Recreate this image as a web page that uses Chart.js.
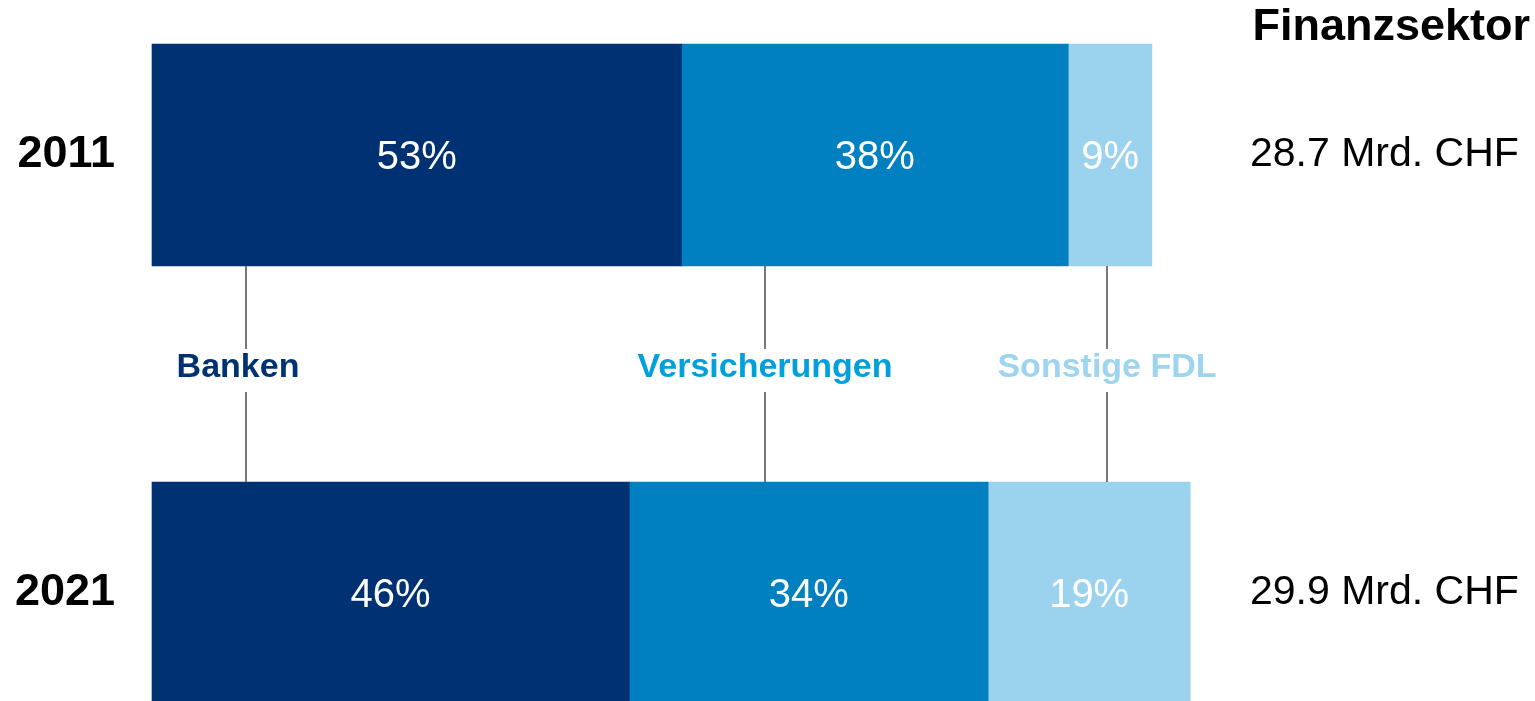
<!DOCTYPE html>
<html lang="de">
<head>
<meta charset="utf-8">
<title>Finanzsektor</title>
<script src="https://cdn.jsdelivr.net/npm/chart.js@4/dist/chart.umd.min.js"></script>
<style>
  html, body { margin: 0; padding: 0; background: #fff; }
  #wrap { position: relative; width: 1535px; height: 701px; }
</style>
</head>
<body>
<div id="wrap"><canvas id="finanzChart"></canvas></div>
<script>
const years = ['2011', '2021'];
const totals = ['28.7 Mrd. CHF', '29.9 Mrd. CHF'];
const sectors = ['Banken', 'Versicherungen', 'Sonstige FDL'];

// Beträge in Mrd. CHF, aus den Balkenlängen geschätzt
const banken = [15.2, 13.7];
const versicherungen = [11.1, 10.3];
const sonstige = [2.4, 5.8];

// Anteile wie beschriftet
const bankenPct = ['53%', '46%'];
const versicherungenPct = ['38%', '34%'];
const sonstigePct = ['9%', '19%'];

const FONT = '"Liberation Sans", Arial, Helvetica, sans-serif';
const barColors = ['#003273', '#0080c0', '#9bd3ee'];
const textColors = ['#003273', '#00a0dc', '#9dd4ef'];
// wo die Verbindungslinien stehen (x-Achse, Mrd. CHF)
const connectorAt = [2.7, 17.6, 27.4];

const segmentLabels = {
  id: 'segmentLabels',
  afterDatasetsDraw(chart) {
    const { ctx } = chart;
    ctx.save();
    ctx.font = `40px ${FONT}`;
    ctx.fillStyle = '#ffffff';
    ctx.textAlign = 'center';
    ctx.textBaseline = 'middle';
    chart.data.datasets.forEach((dataset, i) => {
      const meta = chart.getDatasetMeta(i);
      meta.data.forEach((bar, j) => {
        ctx.fillText(dataset.pct[j], (bar.x + bar.base) / 2, bar.y + 3);
      });
    });
    ctx.restore();
  },
};

const connectors = {
  id: 'connectors',
  afterDatasetsDraw(chart) {
    const { ctx } = chart;
    const { x } = chart.scales;
    const upper = chart.getDatasetMeta(0).data[0];
    const lower = chart.getDatasetMeta(0).data[1];
    const y0 = upper.y + upper.height / 2;
    const y1 = lower.y - lower.height / 2;
    const labelY = 368;

    ctx.save();
    ctx.strokeStyle = '#777777';
    ctx.lineWidth = 2;
    ctx.font = `bold 34px ${FONT}`;
    ctx.textAlign = 'center';
    ctx.textBaseline = 'middle';
    sectors.forEach((name, i) => {
      const px = Math.round(x.getPixelForValue(connectorAt[i]));
      ctx.beginPath();
      ctx.moveTo(px, y0);
      ctx.lineTo(px, labelY - 19);
      ctx.moveTo(px, labelY + 24);
      ctx.lineTo(px, y1);
      ctx.stroke();
      ctx.fillStyle = textColors[i];
      ctx.fillText(name, px - (i === 0 ? 8 : 0), labelY);
    });
    ctx.restore();
  },
};

const datasets = [
  { label: sectors[0], data: banken, pct: bankenPct, backgroundColor: barColors[0] },
  { label: sectors[1], data: versicherungen, pct: versicherungenPct, backgroundColor: barColors[1] },
  { label: sectors[2], data: sonstige, pct: sonstigePct, backgroundColor: barColors[2] },
].map((d) => ({
  ...d,
  borderWidth: 0,
  barThickness: 222,
  clip: false,
}));

const ctx = document.getElementById('finanzChart').getContext('2d');

new Chart(ctx, {
  type: 'bar',
  data: {
    labels: years,
    datasets,
  },
  options: {
    indexAxis: 'y',
    responsive: true,
    maintainAspectRatio: false,
    animation: false,
    layout: {
      padding: { top: 0, right: 5, bottom: 108, left: 0 },
    },
    plugins: {
      legend: { display: false },
      tooltip: { enabled: false },
      title: {
        display: true,
        text: 'Finanzsektor',
        align: 'end',
        color: '#000000',
        font: { family: FONT, size: 45, weight: 'bold', lineHeight: 1.2 },
        padding: { top: 1, bottom: 100 },
      },
    },
    scales: {
      x: {
        stacked: true,
        display: false,
        min: 0,
        max: 31,
      },
      y: {
        stacked: true,
        offset: false,
        grid: { display: false },
        border: { display: false },
        ticks: {
          color: '#000000',
          padding: 29,
          font: { family: FONT, size: 45, weight: 'bold' },
        },
        afterFit: (scale) => { scale.width = 152; },
      },
      y2: {
        type: 'category',
        position: 'right',
        labels: totals,
        offset: false,
        grid: { display: false },
        border: { display: false },
        ticks: {
          color: '#000000',
          padding: 10,
          font: { family: FONT, size: 41 },
        },
        afterFit: (scale) => { scale.width = 298; },
      },
    },
  },
  plugins: [segmentLabels, connectors],
});
</script>
</body>
</html>
